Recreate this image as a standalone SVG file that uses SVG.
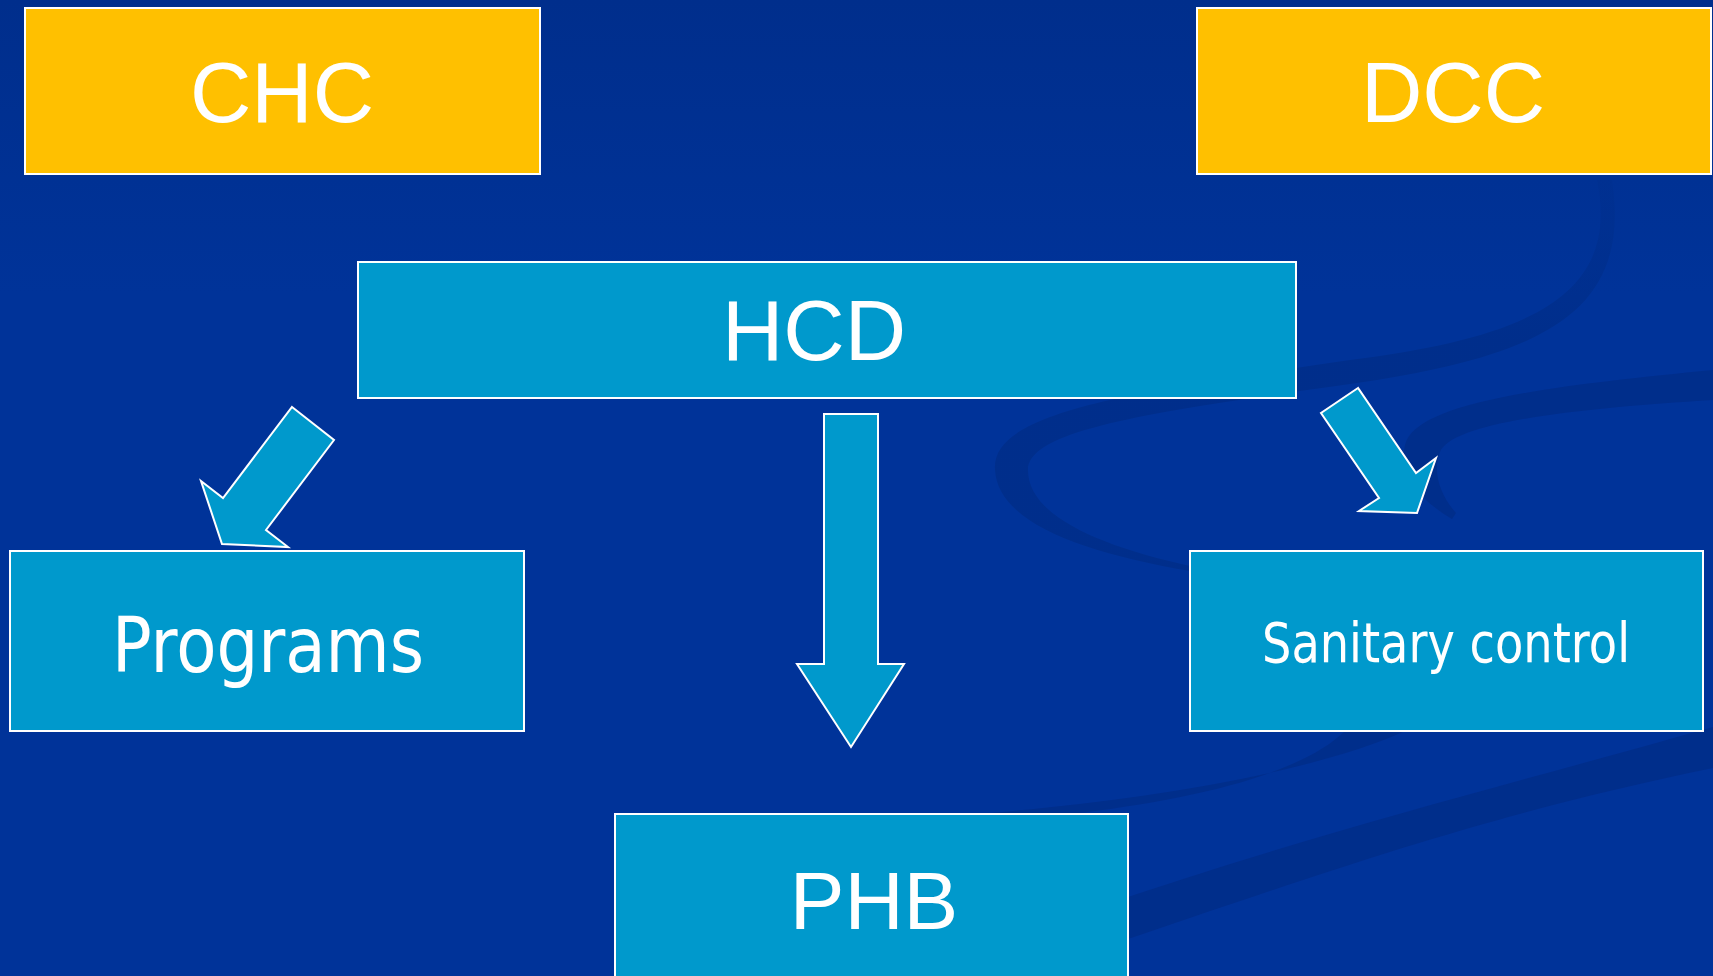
<svg xmlns="http://www.w3.org/2000/svg" width="1713" height="976" viewBox="0 0 1713 976">
  <defs>
    <linearGradient id="bg" x1="0" y1="0" x2="0" y2="1">
      <stop offset="0" stop-color="#002E8C"/>
      <stop offset="0.3" stop-color="#003399"/>
      <stop offset="1" stop-color="#003399"/>
    </linearGradient>
    <linearGradient id="loopfade" gradientUnits="userSpaceOnUse" x1="0" y1="180" x2="0" y2="340">
      <stop offset="0" stop-color="#002A80" stop-opacity="0.15"/>
      <stop offset="1" stop-color="#002A80" stop-opacity="0.55"/>
    </linearGradient>
    <style>
      .swirl { fill: #002A80; opacity: 0.55; }
      .yellow { fill: #FFC000; stroke: #FFFFFF; stroke-width: 2; }
      .blue { fill: #0099CC; stroke: #FFFFFF; stroke-width: 2; }
      .arrow { fill: #0099CC; stroke: #FFFFFF; stroke-width: 2; stroke-linejoin: miter; }
      .t1 { font-family: "Liberation Sans", Arial, sans-serif; fill: #FFFFFF; text-anchor: middle; }
      .t2 { font-family: "DejaVu Sans", Verdana, sans-serif; fill: #FFFFFF; }
    </style>
  </defs>

  <g id="background">
    <rect x="0" y="0" width="1713" height="976" fill="url(#bg)"/>
    <path fill="url(#loopfade)" d="M1597 180 C1622 300 1520 338 1350 360 C1130 392 990 412 995 470 C998 522 1080 552 1190 571 L1190 566 C1100 546 1028 516 1028 470 C1028 430 1150 412 1350 384 C1545 356 1632 312 1612 180 Z"/>
    <path class="swirl" d="M1713 370 C1550 386 1415 402 1405 445 C1398 475 1420 500 1452 519 L1456 513 C1440 495 1432 472 1440 452 C1452 422 1580 408 1713 400 Z"/>
    <path class="swirl" d="M1405 731 C1300 778 1120 802 978 814 L1070 814 C1190 800 1300 775 1345 731 Z"/>
    <path class="swirl" d="M1713 727 C1520 782 1360 820 1128 897 L1128 939 C1360 860 1500 812 1713 768 Z"/>
  </g>

  <g id="connectors">
    <polygon class="arrow" points="292,407 334,440 266,530 288,547 222,544 201,481 223,498"/>
    <polygon class="arrow" points="824,414 878,414 878,664 904,664 851,747 797,664 824,664"/>
    <polygon class="arrow" points="1358,388 1321,413 1379,498 1359,511 1417,513 1436,458 1416,473"/>
  </g>

  <g id="node-chc">
    <rect class="yellow" x="25" y="8" width="515" height="166"/>
    <text class="t1" x="282" y="122" font-size="85">CHC</text>
  </g>

  <g id="node-dcc">
    <rect class="yellow" x="1197" y="8" width="514" height="166"/>
    <text class="t1" x="1453" y="122" font-size="85">DCC</text>
  </g>

  <g id="node-hcd">
    <rect class="blue" x="358" y="262" width="938" height="136"/>
    <text class="t1" x="814" y="360" font-size="85">HCD</text>
  </g>

  <g id="node-programs">
    <rect class="blue" x="10" y="551" width="514" height="180"/>
    <text class="t2" x="112" y="672" font-size="76" textLength="312" lengthAdjust="spacingAndGlyphs">Programs</text>
  </g>

  <g id="node-sanitary">
    <rect class="blue" x="1190" y="551" width="513" height="180"/>
    <text class="t2" x="1262" y="662" font-size="55" textLength="368" lengthAdjust="spacingAndGlyphs">Sanitary control</text>
  </g>

  <g id="node-phb">
    <rect class="blue" x="615" y="814" width="513" height="170"/>
    <text class="t1" x="874" y="929" font-size="82">PHB</text>
  </g>
</svg>
